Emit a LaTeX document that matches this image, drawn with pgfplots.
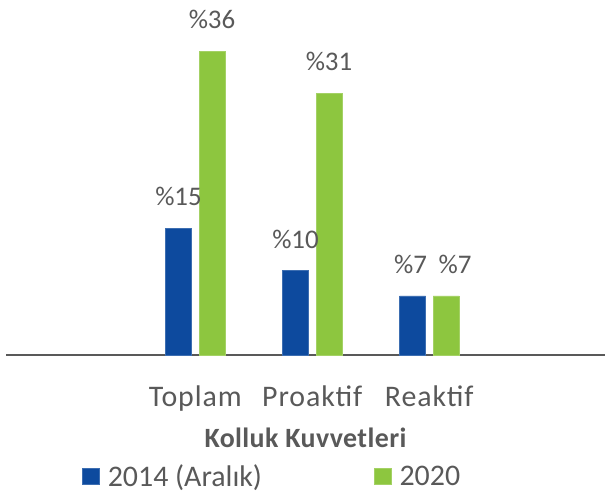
\documentclass[border=0pt]{standalone}
\usepackage{pgfplots}
\pgfplotsset{compat=1.18}
\usepackage{fontspec}
\setmainfont{Carlito}
\definecolor{cblue}{HTML}{0D4A9E}
\definecolor{cgreen}{HTML}{8DC63F}
\definecolor{ctext}{HTML}{595959}
\begin{document}
\begin{tikzpicture}
\useasboundingbox (0,0) rectangle (606bp,-493bp);
\begin{axis}[
  at={(6bp,-355bp)}, anchor=south west,
  scale only axis, width=599bp, height=337.6bp,
  xmin=-1.6175, xmax=3.502, ymin=0, ymax=40,
  axis x line*=bottom, axis y line=none,
  x axis line style={draw=ctext, line width=2bp, -},
  ytick=\empty, xtick={0,1,2}, xticklabels={Toplam,Proaktif,Reaktif},
  major tick length=0pt,
  ybar=7.5bp, bar width=26bp,
  clip=false,
  /pgf/number format/assume math mode=true,
  xticklabel style={font=\fontsize{30}{34}\selectfont\addfontfeatures{LetterSpace=3}, text=ctext, anchor=base, yshift=-51bp},
  xlabel={Kolluk Kuvvetleri},
  xlabel style={at={(axis description cs:0.5,0)}, anchor=base, yshift=-92bp, font=\bfseries\fontsize{28}{32}\selectfont\addfontfeatures{LetterSpace=1.5}, text=ctext},
  nodes near coords={\%\pgfmathprintnumber{\pgfplotspointmeta}},
  every node near coord/.append style={font=\fontsize{27}{32}\selectfont, text=ctext, anchor=base, yshift=22.5bp},
  legend columns=2,
  legend image code/.code={\fill[#1] (0bp,-8bp) rectangle (17bp,8bp);},
  legend style={draw=none, fill=none, at={(0.1269,-0.3605)}, anchor=west, inner sep=0pt,
    font=\fontsize{30}{34}\selectfont, text=ctext,
    /tikz/every odd column/.append style={column sep=6bp},
    /tikz/every even column/.append style={column sep=110bp}},
]
\addplot[fill=cblue, draw=cblue!80!white, line width=0.6bp,
  visualization depends on={x \as \xval},
  every node near coord/.append style={xshift={(\xval>1.5)*(-2bp)}}]
  coordinates {(0,15) (1,10) (2,7)};
\addplot[fill=cgreen, draw=cgreen!80!white, line width=0.6bp,
  visualization depends on={x \as \xval},
  every node near coord/.append style={xshift={(\xval>1.5)*(9bp)}}]
  coordinates {(0,36) (1,31) (2,7)};
\legend{2014 (Aralık),2020}
\end{axis}
\end{tikzpicture}
\end{document}
